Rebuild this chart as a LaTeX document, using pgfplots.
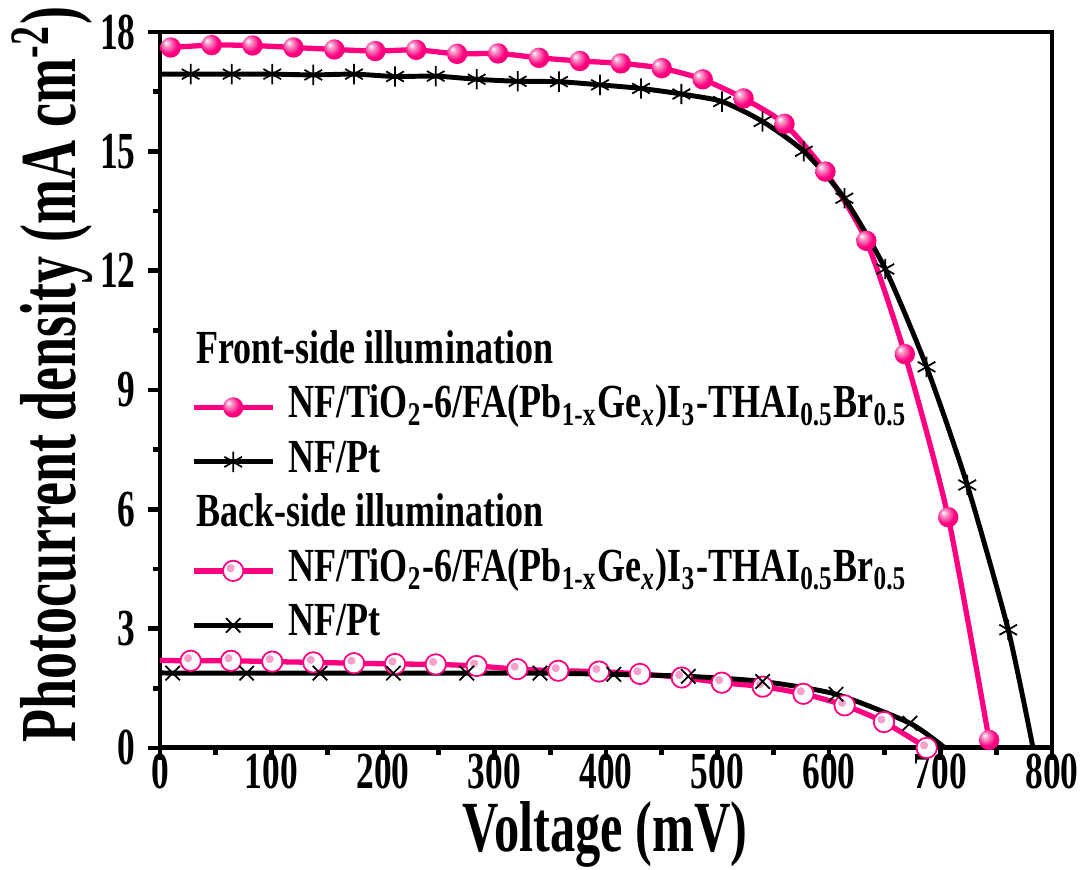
\documentclass[border=0pt]{standalone}
\usepackage{fontspec}
\setmainfont{Liberation Serif}[FakeStretch=0.76]
\newfontfamily\labelfont{Liberation Serif}[FakeStretch=0.70]
\newfontfamily\ylabfont{Liberation Serif}[FakeStretch=0.68]
\newfontfamily\tickfont{Liberation Serif}[FakeStretch=0.68]
\usepackage{pgfplots}
\usepackage{pgfplotstable}
\pgfplotsset{compat=1.18}
\definecolor{mypink}{RGB}{255,0,128}
\definecolor{lpink}{RGB}{245,160,205}

\pgfdeclareradialshading{pinkball}{\pgfpoint{-12bp}{12bp}}{%
  color(0bp)=(white); color(7bp)=(lpink); color(22bp)=(mypink); color(50bp)=(mypink!85!black)}
\pgfdeclareplotmark{pball}{%
  \pgfpathcircle{\pgfpointorigin}{\pgfplotmarksize}%
  \pgfshadepath{pinkball}{0}%
  \pgfusepath{}%
}
\pgfdeclareplotmark{hball}{%
  \pgfpathcircle{\pgfpointorigin}{\pgfplotmarksize}%
  \pgfsetfillcolor{white}%
  \pgfusepathqfillstroke
  \pgfpathcircle{\pgfpoint{-0.25\pgfplotmarksize}{0.25\pgfplotmarksize}}{0.4\pgfplotmarksize}%
  \pgfsetfillcolor{lpink}%
  \pgfusepathqfill
}

\pgfplotstableread{
V J
0 17.60
9.6 17.61
46.3 17.67
83.0 17.66
119.7 17.61
156.4 17.56
193.1 17.52
229.8 17.55
266.5 17.45
303.2 17.46
339.9 17.35
376.6 17.27
413.3 17.21
450.0 17.09
486.7 16.81
523.4 16.33
560.1 15.69
596.8 14.49
633.5 12.75
668.0 9.90
706.9 5.80
743.6 0.20
}\frontpink

\pgfplotstableread{
V J
0 16.94
27.5 16.94
64.3 16.94
100.7 16.94
137.5 16.92
174.0 16.94
210.8 16.88
247.3 16.89
284.0 16.81
320.8 16.76
357.8 16.75
394.6 16.67
431.4 16.58
467.6 16.44
504.1 16.25
540.4 15.75
577.4 15.00
613.8 13.82
650.5 12.04
687.5 9.58
724.0 6.61
760.7 2.97
783.0 0.00
}\frontpt

\pgfplotstableread{
V J
0 2.20
27.5 2.19
63.7 2.19
100.7 2.17
137.5 2.15
174.0 2.13
210.8 2.11
247.3 2.10
284.0 2.06
320.4 1.98
357.2 1.94
393.7 1.92
430.5 1.86
467.9 1.77
503.8 1.64
540.5 1.54
577.0 1.36
614.0 1.07
649.3 0.65
687.6 0.00
}\backpink

\pgfplotstableread{
V J
0 1.89
11.4 1.88
77.7 1.88
143.5 1.88
209.3 1.88
275.1 1.88
340.8 1.88
407.0 1.85
473.8 1.80
540.5 1.67
606.3 1.35
672.6 0.62
704.0 0.00
}\backpt

\begin{document}
\begin{tikzpicture}
\begin{axis}[
  scale only axis, width=253.8pt, height=203.7pt,
  xmin=0, xmax=800, ymin=0, ymax=18,
  xtick={0,100,...,800}, ytick={0,3,...,18},
  minor x tick num=1, minor y tick num=1,
  axis line style={line width=1.4pt},
  every tick/.style={black, line width=1.3pt},
  major tick length=3.4pt, minor tick length=2pt,
  tick align=outside, xtick pos=left, ytick pos=left,
  /pgf/number format/assume math mode=true,
  tick label style={font=\fontsize{14.8}{16}\tickfont\bfseries},
  xticklabel style={yshift=3pt, inner sep=1pt},
  xlabel={Voltage (mV)},
  ylabel={Photocurrent density (mA cm\textsuperscript{-2})},
  xlabel style={font=\fontsize{20.5}{22}\labelfont\bfseries, at={(axis description cs:0.499,-0.145)}, anchor=base, inner sep=0pt},
  ylabel style={font=\fontsize{22.6}{24}\ylabfont\bfseries, at={(axis description cs:-0.121,0.521)}, anchor=center},
  legend cell align=left,
  legend style={at={(axis description cs:0.034,0.587)}, anchor=north west, draw=none, fill=none, inner sep=0pt,
    row sep=1.5pt, font=\fontsize{13.5}{14}\selectfont\bfseries,
    nodes={inner sep=0pt, text height=10pt, text depth=4pt}},
  legend image code/.code={\draw[mark repeat=2,mark phase=2] plot coordinates {(0pt,0pt)(11.25pt,0pt)(22.5pt,0pt)}; \path (26.2pt,0pt);},
]
\addlegendimage{empty legend}
\addlegendentry{\hspace*{-26.2pt}Front-side illumination}
\addlegendimage{mypink, line width=1.5pt, mark=pball, mark size=2.9pt}
\addlegendentry{NF/TiO\textsubscript{2}-6/FA(Pb\textsubscript{1-x}Ge\textsubscript{\textit{x}})I\textsubscript{3}-THAI\textsubscript{0.5}Br\textsubscript{0.5}}
\addlegendimage{black, line width=1.4pt, mark=asterisk, mark size=2.9pt, mark options={line width=0.5pt}}
\addlegendentry{NF/Pt}
\addlegendimage{empty legend}
\addlegendentry{\hspace*{-26.2pt}Back-side illumination}
\addlegendimage{mypink, line width=1.5pt, mark=hball, mark size=2.9pt, mark options={line width=0.5pt}}
\addlegendentry{NF/TiO\textsubscript{2}-6/FA(Pb\textsubscript{1-x}Ge\textsubscript{\textit{x}})I\textsubscript{3}-THAI\textsubscript{0.5}Br\textsubscript{0.5}}
\addlegendimage{black, line width=1.4pt, mark=x, mark size=2.9pt, mark options={line width=0.5pt}}
\addlegendentry{NF/Pt}

% back side
\addplot[mypink, line width=1.5pt, smooth, tension=0.4, forget plot] table {\backpink};
\addplot[mypink, only marks, mark=hball, mark size=2.9pt, mark options={line width=0.5pt}, forget plot,
  skip coords between index={0}{1}] table {\backpink};
\addplot[black, line width=1.4pt, smooth, tension=0.4, forget plot] table {\backpt};
\addplot[black, only marks, mark=x, mark size=2.9pt, mark options={line width=0.5pt}, forget plot,
  skip coords between index={0}{1}, skip coords between index={12}{13}] table {\backpt};
% front side
\addplot[mypink, line width=1.5pt, smooth, tension=0.4, forget plot] table {\frontpink};
\addplot[mypink, only marks, mark=pball, mark size=2.9pt, forget plot,
  skip coords between index={0}{1}] table {\frontpink};
\addplot[black, line width=1.4pt, smooth, tension=0.4, forget plot] table {\frontpt};
\addplot[black, only marks, mark=asterisk, mark size=2.9pt, mark options={line width=0.5pt}, forget plot,
  skip coords between index={0}{1}, skip coords between index={22}{23}] table {\frontpt};
\end{axis}
\pgfresetboundingbox
\path[use as bounding box] ([shift={(-45.52pt,-34.71pt)}]current axis.south west) rectangle ([shift={(9.39pt,9.10pt)}]current axis.north east);
\end{tikzpicture}
\end{document}
